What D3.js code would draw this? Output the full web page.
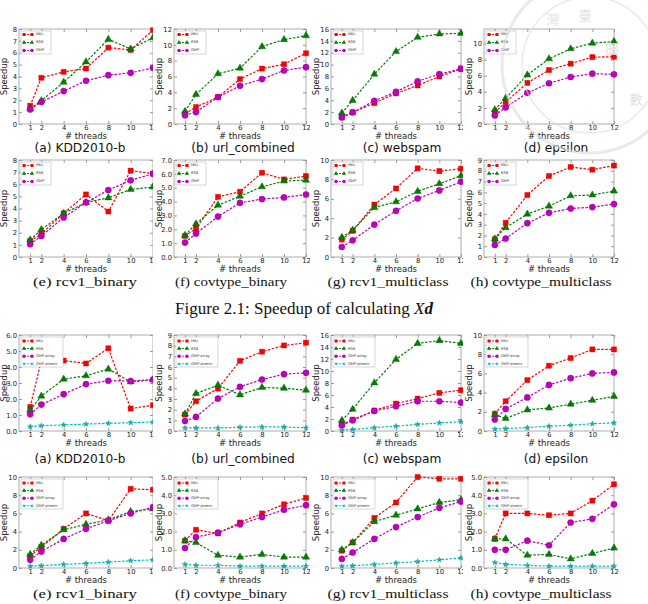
<!DOCTYPE html>
<html>
<head>
<meta charset="utf-8">
<script src="https://cdn.jsdelivr.net/npm/d3@7"></script>
<style>
  body { margin: 0; background: #fff; }
  svg { display: block; }
</style>
</head>
<body>
<div id="fig"></div>
<script>
// Speedup plots, two figures of 8 panels each (X d, then X^T u with 4 series)

var threads = [1, 2, 4, 6, 8, 10, 12];
var xTicks = [1, 2, 4, 6, 8, 10, 12];

var panelNames = ['(a) KDD2010-b', '(b) url_combined', '(c) webspam', '(d) epsilon',
                  '(e) rcv1_binary', '(f) covtype_binary', '(g) rcv1_multiclass', '(h) covtype_multiclass'];

// figure 2.1
var xdYMax = [8, 12, 16, 11.8, 8, 7, 10, 9];
var xdYStep = [1, 2, 2, 2, 1, 1, 2, 1];
var xdLegend = ['MKL', 'RSB', 'OMP'];
var xdMKL = [
  [1.54, 3.89, 4.39, 4.67, 6.43, 6.24, 7.9],
  [1.3, 2.14, 3.4, 5.67, 7.0, 7.55, 8.94],
  [1.12, 1.96, 3.52, 5.15, 6.49, 8.0, 9.29],
  [1.44, 2.72, 5.1, 6.7, 7.49, 8.31, 8.35],
  [1.32, 1.9, 3.61, 5.16, 3.75, 7.12, 6.87],
  [1.52, 2.05, 4.34, 4.71, 6.08, 5.6, 5.84],
  [1.79, 2.69, 5.41, 7.07, 9.14, 8.86, 9.1],
  [1.65, 3.17, 5.75, 7.52, 8.35, 8.1, 8.48]
];
var xdRSB = [
  [1.29, 1.96, 3.52, 5.23, 7.13, 6.32, 7.27],
  [1.6, 3.73, 6.34, 7.05, 9.78, 10.66, 11.16],
  [1.85, 3.97, 8.39, 12.2, 14.6, 15.16, 15.27],
  [1.77, 3.21, 6.09, 8.1, 9.34, 10.04, 10.25],
  [1.41, 2.26, 3.59, 4.5, 4.88, 5.57, 5.77],
  [1.57, 2.39, 3.74, 4.39, 5.07, 5.48, 5.55],
  [2.03, 2.76, 5.1, 5.69, 6.76, 7.55, 8.38],
  [1.68, 2.73, 3.98, 4.72, 5.68, 5.75, 6.12]
];
var xdOMP = [
  [1.23, 1.85, 2.77, 3.64, 4.11, 4.31, 4.73],
  [1.09, 1.51, 3.4, 4.83, 5.67, 6.76, 7.18],
  [1.12, 1.96, 3.9, 5.43, 7.2, 8.39, 9.29],
  [1.07, 2.06, 3.87, 5.06, 5.84, 6.25, 6.17],
  [1.05, 1.74, 3.26, 4.5, 5.52, 6.32, 6.87],
  [1.04, 1.69, 2.92, 3.91, 4.18, 4.3, 4.51],
  [1.03, 1.72, 3.34, 4.76, 6.03, 6.86, 7.76],
  [1.12, 1.71, 3.14, 4.1, 4.5, 4.63, 4.91]
];

// second figure
var trYMax = [6, 9, 16, 10, 10, 5, 10, 5];
var trYStep = [1, 1, 2, 2, 2, 1, 2, 1];
var trLegend = ['MKL', 'RSB', 'OMP-array', 'OMP-atomic'];
var trMKL = [
  [1.5, 4.4, 4.4, 4.22, 5.17, 1.4, 1.61],
  [1.54, 2.79, 3.98, 6.58, 7.43, 8.02, 8.28],
  [1.06, 1.9, 3.4, 4.57, 5.4, 6.35, 6.8],
  [1.8, 3.1, 5.3, 6.8, 7.6, 8.5, 8.5],
  [1.3, 2.3, 4.3, 6.0, 5.2, 8.7, 8.6],
  [1.5, 2.1, 1.9, 2.5, 3.0, 3.5, 3.85],
  [1.9, 2.8, 5.5, 7.2, 10.0, 9.8, 9.8],
  [1.6, 3.0, 3.0, 2.9, 3.0, 3.7, 4.6]
];
var trRSB = [
  [1.3, 2.18, 3.24, 3.45, 3.87, 3.07, 3.2],
  [1.6, 3.51, 4.3, 3.39, 4.08, 4.01, 3.82],
  [1.78, 3.62, 8.03, 11.93, 14.6, 15.05, 14.6],
  [1.7, 1.3, 2.2, 2.4, 2.8, 3.2, 3.6],
  [1.5, 2.5, 4.2, 4.8, 5.3, 6.2, 6.5],
  [1.5, 1.4, 0.7, 0.6, 0.75, 0.6, 0.6],
  [2.0, 2.8, 5.1, 5.8, 6.5, 7.2, 7.5],
  [1.6, 1.6, 0.7, 0.75, 0.5, 0.8, 1.1]
];
var trOMPArray = [
  [1.05, 1.65, 2.3, 2.93, 3.14, 3.12, 3.22],
  [0.94, 1.32, 3.04, 4.14, 4.83, 5.33, 5.45],
  [0.95, 1.78, 3.34, 4.12, 4.96, 4.96, 4.74],
  [1.2, 2.3, 3.5, 4.8, 5.5, 6.0, 6.1],
  [0.9, 1.8, 3.2, 4.3, 5.2, 6.0, 6.7],
  [1.1, 1.7, 1.95, 2.4, 2.8, 3.2, 3.45],
  [1.0, 1.7, 3.2, 4.5, 5.6, 6.6, 7.3],
  [1.0, 1.0, 1.5, 1.25, 2.5, 2.7, 3.5]
];
var trOMPAtomic = [
  [0.27, 0.33, 0.38, 0.43, 0.48, 0.52, 0.56],
  [0.3, 0.3, 0.28, 0.35, 0.38, 0.38, 0.3],
  [0.15, 0.25, 0.55, 0.8, 1.1, 1.35, 1.55],
  [0.2, 0.25, 0.35, 0.5, 0.6, 0.75, 0.85],
  [0.2, 0.25, 0.4, 0.5, 0.65, 0.8, 0.9],
  [0.2, 0.15, 0.15, 0.1, 0.1, 0.1, 0.1],
  [0.2, 0.25, 0.4, 0.55, 0.7, 0.9, 1.1],
  [0.3, 0.2, 0.15, 0.1, 0.1, 0.1, 0.1]
];

// layout (pixel boxes of the plot areas)
var width = 648, height = 604;
var colLeft = [19, 174, 331, 484];
var colRight = [153, 306, 461, 614];
var rowBox = [[29, 124], [160, 257], [335, 431], [477, 568]];
var captionX = [80, 243, 402, 556, 85, 231, 388, 541];
var serifCaptionWidth = [104, 112, 121, 141];
var captionY = [152, 286, 463, 598];
var sansFont = '"DejaVu Sans", sans-serif';
var serifFont = '"Liberation Serif", "DejaVu Serif", serif';

var styles = [
  { color: '#ff0000', edge: '#b00000', symbol: d3.symbolSquare, size: 26, lsize: 9 },
  { color: '#008000', edge: '#005000', symbol: d3.symbolTriangle, size: 22, lsize: 8 },
  { color: '#bf00bf', edge: '#800080', symbol: d3.symbolCircle, size: 30, lsize: 10 },
  { color: '#00bfbf', edge: '#008080', symbol: d3.symbolStar, size: 9, lsize: 5 }
];

var svg = d3.select('#fig').append('svg')
      .attr('width', width)
      .attr('height', height);

svg.append('rect')
      .attr('width', width)
      .attr('height', height)
      .attr('fill', '#fff');

function drawPanel(row, col, series, legendNames, yMax, yStep) {
  var top = rowBox[row][0], bottom = rowBox[row][1];
  var left = colLeft[col], right = colRight[col];
  var g = svg.append('g');

  // white background of the panel image, hides the overflow of the left neighbour
  g.append('rect')
      .attr('x', left - 21)
      .attr('y', top - 8)
      .attr('width', right - left + 34)
      .attr('height', bottom - top + 24)
      .attr('fill', '#fff');

  var x = d3.scaleLinear().domain([0, 12]).range([left, right]);
  var y = d3.scaleLinear().domain([0, yMax]).range([bottom, top]);
  var yTicks = d3.range(0, yMax + 1e-6, yStep);

  g.append('g')
      .attr('transform', 'translate(0,' + bottom + ')')
      .call(d3.axisBottom(x).tickValues(xTicks).tickSizeInner(-3).tickSizeOuter(0).tickPadding(1));
  g.append('g')
      .attr('transform', 'translate(' + left + ',0)')
      .call(d3.axisLeft(y).tickValues(yTicks).tickSizeInner(-3).tickSizeOuter(0).tickPadding(2));
  g.append('g')
      .attr('transform', 'translate(0,' + top + ')')
      .call(d3.axisTop(x).tickValues(xTicks).tickSizeInner(-3).tickSizeOuter(0).tickFormat(''));
  g.append('g')
      .attr('transform', 'translate(' + right + ',0)')
      .call(d3.axisRight(y).tickValues(yTicks).tickSizeInner(-3).tickSizeOuter(0).tickFormat(''));

  g.selectAll('.domain').remove();
  g.selectAll('.tick line').attr('stroke', '#555').attr('stroke-width', 0.6);
  g.selectAll('.tick text')
      .attr('font-family', sansFont)
      .attr('font-size', 6.8)
      .attr('fill', '#222');

  g.append('rect')
      .attr('x', left)
      .attr('y', top)
      .attr('width', right - left)
      .attr('height', bottom - top)
      .attr('fill', 'none')
      .attr('stroke', '#9a9a9a')
      .attr('stroke-width', 0.8);

  // axis titles
  g.append('text')
      .attr('transform', 'translate(' + (left - 14.5) + ',' + ((top + bottom) / 2) + ') rotate(-90)')
      .attr('text-anchor', 'middle')
      .attr('dominant-baseline', 'middle')
      .attr('font-family', sansFont)
      .attr('font-size', 8.5)
      .attr('fill', '#222')
      .text('Speedup');
  g.append('text')
      .attr('x', (left + right) / 2)
      .attr('y', bottom + 15.2)
      .attr('text-anchor', 'middle')
      .attr('font-family', sansFont)
      .attr('font-size', 8.5)
      .attr('fill', '#222')
      .text('# threads');

  // dashed lines with markers
  var line = d3.line().x(d => x(d[0])).y(d => y(d[1]));
  series.forEach(function(vals, i) {
    var st = styles[i];
    var pts = threads.map((t, k) => [t, vals[k]]);
    g.append('path')
        .attr('d', line(pts))
        .attr('fill', 'none')
        .attr('stroke', st.color)
        .attr('stroke-width', 1.2)
        .attr('stroke-dasharray', '2.5,1.5');
    g.selectAll(null)
        .data(pts)
        .enter()
        .append('path')
        .attr('transform', d => 'translate(' + x(d[0]) + ',' + y(d[1]) + ')')
        .attr('d', d3.symbol().type(st.symbol).size(st.size))
        .attr('fill', st.color)
        .attr('stroke', st.edge)
        .attr('stroke-width', 0.4);
  });

  // legend, top left
  var n = legendNames.length;
  var lx = left + 2, ly = top + 2;
  var lw = n > 3 ? 42 : 30;
  var lh = n > 3 ? 30 : 23;
  var lg = g.append('g');
  lg.append('rect')
      .attr('x', lx)
      .attr('y', ly)
      .attr('width', lw)
      .attr('height', lh)
      .attr('fill', '#fff')
      .attr('stroke', '#bbb')
      .attr('stroke-width', 0.6);
  legendNames.forEach(function(name, i) {
    var st = styles[i];
    var ey = ly + (n > 3 ? 4 + i * 7.6 : 3.5 + i * 8);
    lg.append('line')
        .attr('x1', lx + 3).attr('x2', lx + 11)
        .attr('y1', ey).attr('y2', ey)
        .attr('stroke', st.color)
        .attr('stroke-width', 1)
        .attr('stroke-dasharray', '2,1.2');
    [lx + 3, lx + 11].forEach(function(mx) {
      lg.append('path')
          .attr('transform', 'translate(' + mx + ',' + ey + ')')
          .attr('d', d3.symbol().type(st.symbol).size(st.lsize))
          .attr('fill', st.color);
    });
    lg.append('text')
        .attr('x', lx + 15)
        .attr('y', ey)
        .attr('dominant-baseline', 'middle')
        .attr('font-family', sansFont)
        .attr('font-size', 3.6)
        .attr('fill', '#333')
        .text(name);
  });
}

for (var p = 0; p < 8; p++) {
  drawPanel(Math.floor(p / 4), p % 4, [xdMKL[p], xdRSB[p], xdOMP[p]], xdLegend, xdYMax[p], xdYStep[p]);
}
for (var q = 0; q < 8; q++) {
  drawPanel(2 + Math.floor(q / 4), q % 4, [trMKL[q], trRSB[q], trOMPArray[q], trOMPAtomic[q]],
            trLegend, trYMax[q], trYStep[q]);
}

// sub captions (first row sans, second row serif in each figure)
for (var r = 0; r < 4; r++) {
  for (var c = 0; c < 4; c++) {
    var idx = (r % 2) * 4 + c;
    var serif = r % 2 === 1;
    var t = svg.append('text')
        .attr('x', captionX[idx])
        .attr('y', captionY[r])
        .attr('text-anchor', 'middle')
        .attr('font-family', serif ? serifFont : sansFont)
        .attr('font-size', serif ? 13.5 : 12.2)
        .attr('fill', '#111')
        .text(panelNames[idx]);
    if (serif) {
      t.attr('textLength', serifCaptionWidth[c]).attr('lengthAdjust', 'spacingAndGlyphs');
    }
  }
}

// figure caption
var cap = svg.append('text')
      .attr('x', 304)
      .attr('y', 314)
      .attr('text-anchor', 'middle')
      .attr('font-family', serifFont)
      .attr('font-size', 17)
      .attr('fill', '#111');
cap.append('tspan').text('Figure 2.1: Speedup of calculating ');
cap.append('tspan').attr('font-style', 'italic').text('X');
cap.append('tspan').attr('font-style', 'italic').attr('font-weight', 'bold').text('d');

// faint library seal in the top right corner
var wm = svg.append('g')
      .attr('fill', 'none')
      .attr('stroke', '#dcdcdc')
      .attr('opacity', 0.6);
wm.append('circle').attr('cx', 590).attr('cy', 65).attr('r', 88).attr('stroke-width', 3);
wm.append('circle').attr('cx', 590).attr('cy', 65).attr('r', 68).attr('stroke-width', 1.5);
var sealChars = [['臺', 585, 16], ['灣', 553, 20], ['圖', 612, 50], ['數', 636, 100]];
sealChars.forEach(function(s) {
  svg.append('text')
      .attr('x', s[1])
      .attr('y', s[2])
      .attr('text-anchor', 'middle')
      .attr('dominant-baseline', 'middle')
      .attr('font-family', '"Noto Sans CJK TC", sans-serif')
      .attr('font-size', 13)
      .attr('fill', '#e2e2e2')
      .text(s[0]);
});
</script>
</body>
</html>
